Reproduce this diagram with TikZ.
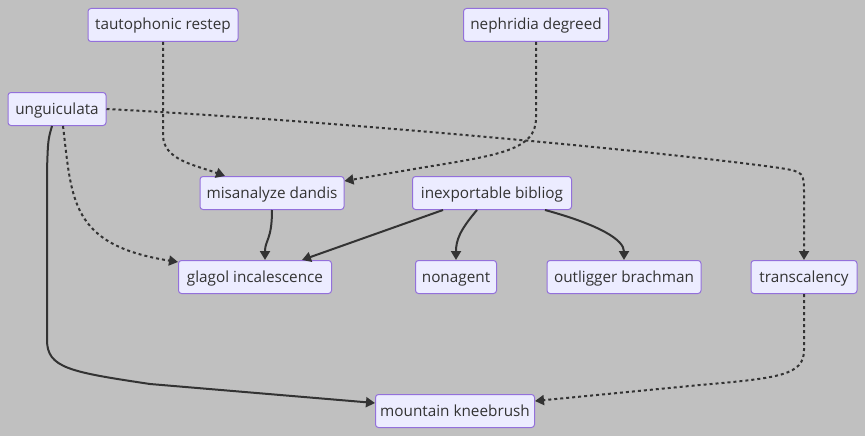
\documentclass[tikz,border=0pt]{standalone}
\usepackage{fontspec}
\setmainfont{Open Sans}
\usetikzlibrary{arrows.meta}
\definecolor{bggray}{HTML}{C0C0C0}
\definecolor{boxfill}{HTML}{ECECFF}
\definecolor{boxline}{HTML}{9370DB}
\definecolor{edgecol}{HTML}{333333}
\begin{document}
\begin{tikzpicture}
[x=1pt, y=-1pt,
every node/.style={draw=boxline, fill=boxfill, rounded corners=3pt, line width=1pt,
  minimum height=33pt, inner sep=0pt, text height=12pt, text depth=2pt,
  text=edgecol, font=\fontsize{15.3}{18}\selectfont},
solidedge/.style={draw=edgecol, line width=2pt, -{Triangle[length=9pt,width=10pt]}},
dottededge/.style={solidedge, dash pattern=on 3pt off 3pt},
]
\fill[bggray] (0,0) rectangle (865,436);
\useasboundingbox (0,0) rectangle (865,436);

\node[minimum width=150pt] (taut) at (163,25) {tautophonic restep};
\node[minimum width=145pt] (neph) at (536,25) {nephridia degreed};
\node[minimum width=98pt] (ungu) at (57,109) {unguiculata};
\node[minimum width=144pt] (misa) at (272,193) {misanalyze dandis};
\node[minimum width=159pt] (inex) at (492,193) {inexportable bibliog};
\node[minimum width=153pt] (glag) at (255,277) {glagol incalescence};
\node[minimum width=81pt] (nona) at (456,277) {nonagent};
\node[minimum width=154pt] (outl) at (624,277) {outligger brachman};
\node[minimum width=106pt] (tran) at (804,277) {transcalency};
\node[minimum width=159pt] (moun) at (455,411) {mountain kneebrush};

\draw[dottededge] (taut) -- (163,135) .. controls (163,160) and (195,165) .. ([xshift=-47pt]misa.north);
\draw[dottededge] (neph) -- (536,118) .. controls (536,150) and (500,155) .. (420,168) -- ([yshift=12pt]misa.east);
\draw[dottededge] (ungu.east) .. controls (320,120) and (650,150) .. (780,168) .. controls (804,172) .. (804,195) -- (tran);
\draw[dottededge] ([xshift=6pt]ungu.south) .. controls (72,200) and (70,245) .. ([yshift=15pt]glag.west);
\draw[solidedge] ([xshift=-5pt]ungu.south) .. controls (48,140) .. (47,170) -- (47,340) .. controls (47,368) and (70,372) .. (150,384) -- ([yshift=8pt]moun.west);
\draw[dottededge] (tran) -- (804,350) .. controls (804,375) and (780,378) .. (700,385) -- ([yshift=10pt]moun.east);
\draw[solidedge] (misa) .. controls (272,240) and (265,240) .. ([xshift=10pt]glag.north);
\draw[solidedge] ([xshift=-49pt]inex.south) -- ([xshift=47pt]glag.north);
\draw[solidedge] ([xshift=-15pt]inex.south) .. controls (460,230) and (456,240) .. (nona);
\draw[solidedge] ([xshift=53pt]inex.south) .. controls (600,225) and (624,240) .. (outl);
\end{tikzpicture}
\end{document}
